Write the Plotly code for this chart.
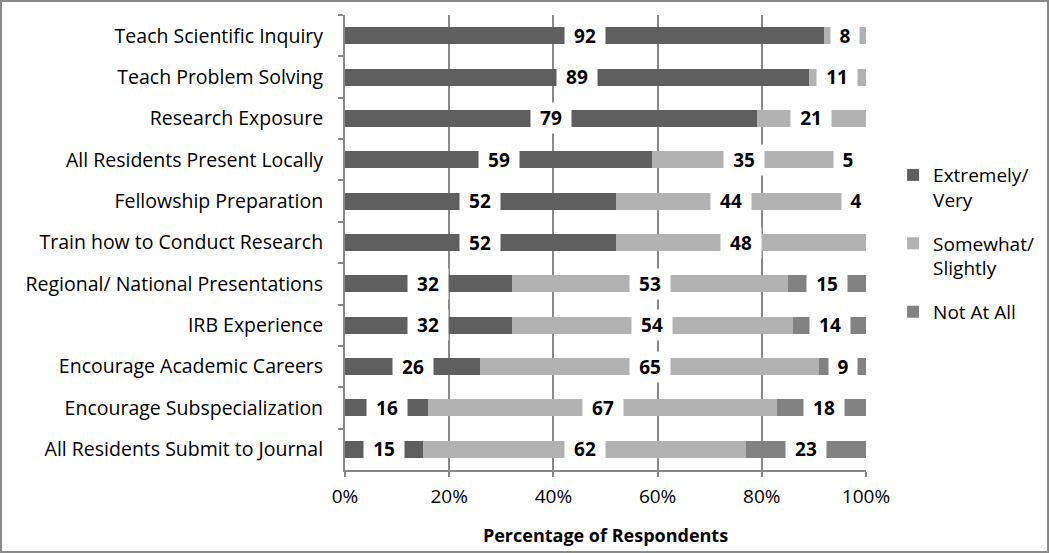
import plotly.graph_objects as go

categories = [
    "Teach Scientific Inquiry",
    "Teach Problem Solving",
    "Research Exposure",
    "All Residents Present Locally",
    "Fellowship Preparation",
    "Train how to Conduct Research",
    "Regional/ National Presentations",
    "IRB Experience",
    "Encourage Academic Careers",
    "Encourage Subspecialization",
    "All Residents Submit to Journal",
]
extremely_very = [92, 89, 79, 59, 52, 52, 32, 32, 26, 16, 15]
somewhat_slightly = [8, 11, 21, 35, 44, 48, 53, 54, 65, 67, 62]
not_at_all = [0, 0, 0, 5, 4, 0, 15, 14, 9, 18, 23]
x_ticks = [0, 20, 40, 60, 80, 100]

series = [
    ("Extremely/<br>Very", extremely_very, "#5f5f5f"),
    ("Somewhat/<br>Slightly", somewhat_slightly, "#b2b2b2"),
    ("Not At All", not_at_all, "#828282"),
]

W, H = 1050, 553
ML, MR, MT, MB = 345, 184, 15, 83
PW, PH = W - ML - MR, H - MT - MB
FONT = "Open Sans"

fig = go.Figure()
for name, vals, color in series:
    fig.add_trace(go.Bar(
        y=categories, x=vals, name=name, orientation="h",
        legendgroup=name,
        marker=dict(color=color, line=dict(width=0)),
    ))

# data labels with white boxes, centred on each segment
base = [0] * len(categories)
for name, vals, color in series:
    for i, v in enumerate(vals):
        if v > 0:
            fig.add_annotation(
                x=base[i] + v / 2, y=categories[i], xref="x", yref="y",
                text="<b>%d</b>" % v, showarrow=False,
                font=dict(family=FONT, size=19, color="black"),
                bgcolor="white", width=26 if v < 10 else 38, height=28,
            )
        base[i] += v

# outer chart border
fig.add_shape(
    type="rect", xref="paper", yref="paper",
    x0=-(ML - 1) / PW, x1=1 + (MR - 2) / PW,
    y0=-(MB - 1) / PH, y1=1 + (MT - 1) / PH,
    line=dict(color="#8a8a8a", width=2), layer="below",
)

fig.update_layout(
    width=W, height=H,
    margin=dict(l=ML, r=MR, t=MT, b=MB, autoexpand=False),
    barmode="stack", bargap=0.59,
    plot_bgcolor="white", paper_bgcolor="white",
    font=dict(family=FONT, size=19, color="black"),
    showlegend=True,
    legend=dict(
        x=1.052, y=0.69, xanchor="left", yanchor="top",
        font=dict(family=FONT, size=19), traceorder="grouped",
        itemwidth=30, valign="top", tracegroupgap=16,
    ),
    xaxis=dict(
        range=[0, 100], tickvals=x_ticks,
        ticktext=["%d%%" % t for t in x_ticks],
        showgrid=True, gridcolor="#888888", gridwidth=2,
        showline=True, linecolor="#888888", linewidth=2,
        ticks="outside", ticklen=5, tickcolor="#888888", tickwidth=2,
        tickfont=dict(family=FONT, size=19), ticklabelstandoff=3,
        zeroline=False, automargin=False,
        title=dict(text="<b>Percentage of Respondents</b>",
                   font=dict(family=FONT, size=18), standoff=22),
    ),
    yaxis=dict(
        autorange="reversed", type="category",
        showline=True, linecolor="#888888", linewidth=2,
        ticks="outside", ticklen=5, tickcolor="#888888", tickwidth=2,
        tickson="boundaries", showgrid=False, automargin=False,
        ticklabelstandoff=16,
        tickfont=dict(family=FONT, size=19.5),
    ),
)

fig.write_html("out.html", config={"displayModeBar": False},
               post_script="document.body.style.margin='0';")
